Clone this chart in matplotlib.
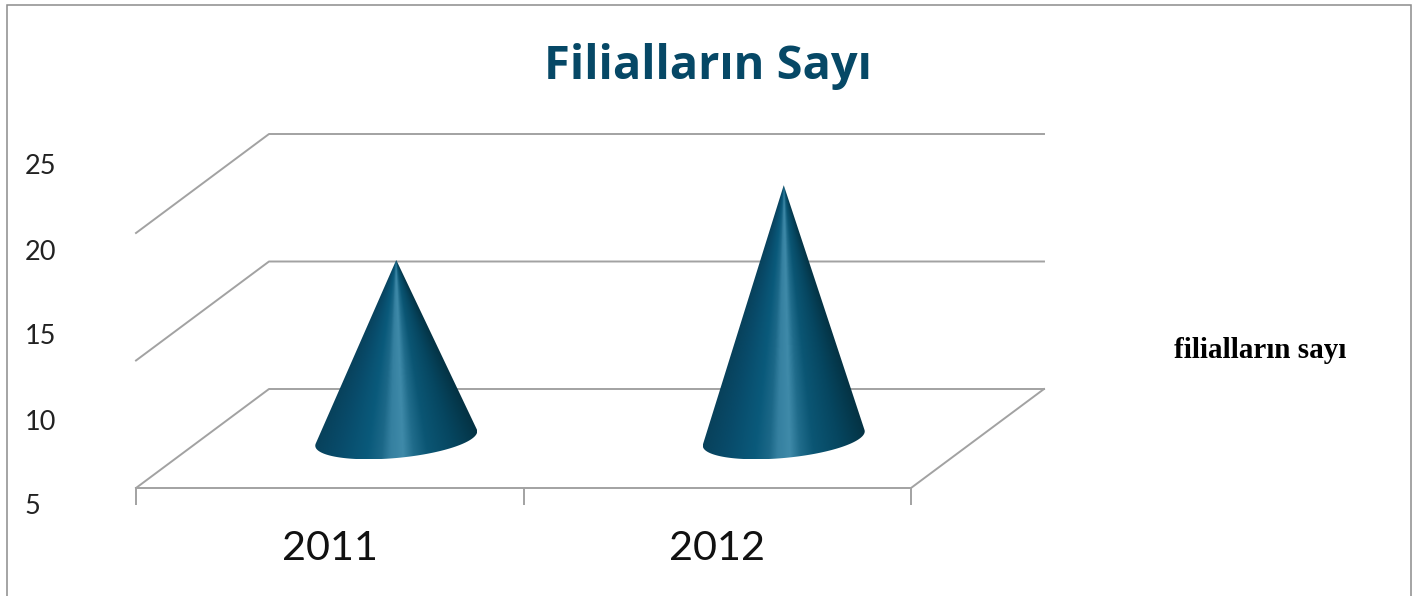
import numpy as np
import matplotlib
matplotlib.use('Agg')
import matplotlib.pyplot as plt
from matplotlib.colors import LinearSegmentedColormap
from matplotlib.patches import PathPatch, Rectangle
from matplotlib.path import Path
from matplotlib.transforms import ScaledTranslation

years = ['2011', '2012']
branches = [15.5, 19.9]
y_ticks = [5, 10, 15, 20, 25]
grid_levels = [5, 12.5, 20]
title = 'Filialların Sayı'
legend_label = 'filialların sayı'

W, H = 1414, 596
GREY = '#a2a2a2'
# 3D look: how far the back of the floor is shifted, in data units
depth_x = 133 / 387.5
depth_y = 99 / 17

cone_cmap = LinearSegmentedColormap.from_list('cone', [
    (0.00, '#08415b'), (0.15, '#084b6a'), (0.32, '#0a5a7b'), (0.40, '#1c6888'),
    (0.45, '#3580a0'), (0.52, '#3f8aa9'), (0.58, '#206c8b'), (0.66, '#0b5674'),
    (0.82, '#064660'), (1.00, '#043243'),
])

fig = plt.figure(figsize=(W / 100, H / 100), dpi=100)
fig.add_artist(Rectangle((6.5 / W, -0.01), (1411 - 6.5) / W, 1.01 - 4.5 / H,
                         transform=fig.transFigure, fill=False, ec='#8c8c8c', lw=1.1))

ax = fig.add_axes([136 / W, (H - 488) / H, 775 / W, 355 / H])
ax.set_xlim(-0.5, 1.5)
ax.set_ylim(5, 5 + 355 / 17)
for s in ax.spines.values():
    s.set_visible(False)
ax.patch.set_alpha(0)

# gridlines run from the front left, to the back left, to the back right
for g in grid_levels:
    ax.plot([-0.5, -0.5 + depth_x, 1.5 + depth_x], [g, g + depth_y, g + depth_y],
            color=GREY, lw=1.4, clip_on=False, zorder=1)
# floor
ax.plot([-0.5, 1.5, 1.5 + depth_x], [5, 5, 5 + depth_y], color=GREY, lw=1.4, clip_on=False, zorder=1)

ax.set_xticks([0, 1])
ax.set_xticklabels(years, family='Lato', fontsize=29.8, color='#111111')
ax.set_xticks([-0.5, 0.5, 1.5], minor=True)
ax.tick_params(axis='x', which='major', length=0, pad=30)
ax.tick_params(axis='x', which='minor', length=12, width=1.4, color=GREY)

ax.set_yticks(y_ticks)
ax.set_yticklabels([str(v) for v in y_ticks], family='Lato',
                   fontsize=19.5, color='#222222', ha='left')
ax.tick_params(axis='y', length=0, pad=80)
for lab in ax.get_yticklabels():
    lab.set_transform(lab.get_transform() + ScaledTranslation(0, -16.5 / 100, fig.dpi_scale_trans))

# cones
radius_x = 76 / 387.5
radius_d = 0.21
for i, v in enumerate(branches):
    cx = i + depth_x * 0.5
    cy = 5 + depth_y * 0.5
    apex_y = cy + (v - 5)

    t = np.linspace(0.5 * np.pi, 2.5 * np.pi, 721)
    ex = cx + radius_x * np.cos(t) + radius_d * depth_x * np.sin(t)
    ey = cy + radius_d * depth_y * np.sin(t)
    slope = (ex - cx) / (apex_y - ey)
    left, right = np.argmin(slope), np.argmax(slope)
    arc = np.column_stack([ex[left:right + 1], ey[left:right + 1]])
    outline = np.vstack([[cx, apex_y], arc, [cx, apex_y]])
    codes = [Path.MOVETO] + [Path.LINETO] * (len(outline) - 2) + [Path.CLOSEPOLY]

    # shading follows rays coming down from the apex
    x0, x1 = arc[:, 0].min(), arc[:, 0].max()
    y0, y1 = arc[:, 1].min(), apex_y
    gx, gy = np.meshgrid(np.linspace(x0, x1, 400), np.linspace(y0, y1, 500))
    rays = (gx - cx) / np.maximum(apex_y - gy, 1e-3)
    shade = (rays - slope[left]) / (slope[right] - slope[left])
    im = ax.imshow(np.clip(shade, 0, 1), extent=(x0, x1, y0, y1), origin='lower',
                   cmap=cone_cmap, vmin=0, vmax=1, aspect='auto', zorder=3,
                   interpolation='bilinear', clip_on=True)
    im.set_clip_path(PathPatch(Path(outline, codes), transform=ax.transData))

ax.set_xlim(-0.5, 1.5)
ax.set_ylim(5, 5 + 355 / 17)

fig.text(708 / W, 1 - 79 / H, title, family='Open Sans', weight='bold', fontsize=33.8,
         color='#064866', ha='center', va='baseline')
fig.text(1260.5 / W, 1 - 350 / H, legend_label, family='Liberation Serif', weight='bold',
         fontsize=21, color='black', ha='center', va='center')

fig.savefig('out.png', dpi=100)
